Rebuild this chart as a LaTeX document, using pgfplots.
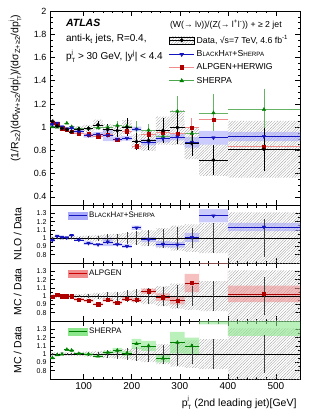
\documentclass[border=0pt]{standalone}
\usepackage{fontspec}
\setmainfont{Liberation Sans}
\usepackage{pgfplots}
\pgfplotsset{compat=1.18}
\usepackage{pgfplotstable}
\usepgfplotslibrary{fillbetween}
\usetikzlibrary{patterns.meta}

\definecolor{mblue}{RGB}{20,20,190}
\definecolor{lblue}{RGB}{170,170,250}
\definecolor{mred}{RGB}{175,0,0}
\definecolor{lred}{RGB}{240,140,140}
\definecolor{mgreen}{RGB}{0,128,0}
\definecolor{lgreen}{RGB}{140,230,140}

\newcommand{\ptj}{p\makebox[0pt][l]{\raisebox{0.95ex}{\fontsize{6}{6}\selectfont j}}\raisebox{-0.55ex}{\fontsize{6}{6}\selectfont T}}
\newcommand{\smc}[1]{{\fontsize{6.2}{7}\selectfont #1}}
\newcommand{\BHS}{B\smc{LACK}H\smc{AT}+S\smc{HERPA}}

% main panel: left edge, centre, half width, data, stat, syst, BlackHat, band, Alpgen, err, Sherpa, err
\pgfplotstableread{
xl  x   ex  d     ds    dsys  b     be    r     re    g     ge
30  35  5   1.050 0.010 0.021 1.024 0.015 1.040 0.010 1.003 0.010
40  45  5   1.010 0.010 0.020 1.034 0.015 1.030 0.010 1.000 0.010
50  55  5   0.990 0.010 0.020 1.002 0.015 0.990 0.010 0.990 0.010
60  65  5   0.980 0.012 0.020 0.985 0.015 0.980 0.010 1.034 0.010
70  75  5   0.960 0.014 0.020 0.994 0.015 0.960 0.010 1.003 0.010
80  90  10  0.983 0.015 0.025 0.963 0.015 0.944 0.010 0.988 0.012
100 110 10  0.990 0.020 0.030 0.930 0.020 0.938 0.012 0.990 0.015
120 130 10  1.020 0.030 0.045 0.940 0.020 0.922 0.012 0.995 0.020
140 150 10  0.980 0.045 0.045 0.930 0.050 0.936 0.015 1.000 0.030
160 170 10  0.970 0.055 0.050 0.898 0.020 0.892 0.015 1.014 0.040
180 190 10  1.000 0.075 0.060 0.904 0.020 0.967 0.020 1.010 0.070
200 210 10  0.875 0.075 0.065 0.984 0.020 0.836 0.020 0.984 0.070
220 235 15  0.885 0.085 0.090 0.869 0.025 0.938 0.030 0.974 0.050
250 265 15  0.970 0.110 0.120 0.900 0.030 0.958 0.040 0.920 0.060
280 295 15  0.997 0.140 0.150 0.917 0.030 0.944 0.040 1.137 0.130
310 325 15  0.860 0.105 0.135 0.869 0.045 0.998 0.080 0.946 0.100
340 370 30  0.716 0.130 0.135 0.909 0.060 1.066 0.030 1.123 0.160
400 475 75  0.810 0.185 0.245 0.920 0.040 0.833 0.030 1.152 0.180
550 nan nan 0.810 0.185 0.245 0.920 0.040 0.833 0.030 1.152 0.180
}\maintab

% ratio panels: relative data stat/syst, model/data ratios with bands
\pgfplotstableread{
xl  x   ex  ds    dsys  b     be    r     re    g     ge
30  35  5   0.010 0.020 0.975 0.015 0.990 0.015 0.955 0.010
40  45  5   0.010 0.020 1.024 0.015 1.020 0.015 0.990 0.010
50  55  5   0.010 0.020 1.012 0.015 1.000 0.015 1.000 0.010
60  65  5   0.012 0.020 1.005 0.015 1.000 0.015 1.055 0.012
70  75  5   0.015 0.021 1.035 0.015 1.000 0.015 1.045 0.012
80  90  10  0.015 0.025 0.980 0.015 0.960 0.015 1.005 0.012
100 110 10  0.020 0.030 0.940 0.020 0.947 0.015 1.000 0.015
120 130 10  0.030 0.040 0.923 0.020 0.904 0.015 0.975 0.015
140 150 10  0.045 0.045 0.955 0.050 0.955 0.020 1.020 0.020
160 170 10  0.055 0.052 0.926 0.020 0.920 0.020 1.045 0.030
180 190 10  0.075 0.060 0.904 0.020 0.967 0.020 1.010 0.030
200 210 10  0.085 0.075 1.125 0.025 0.955 0.025 1.125 0.060
220 235 15  0.095 0.095 0.982 0.030 1.060 0.030 1.100 0.060
250 265 15  0.115 0.120 0.928 0.035 0.988 0.045 0.950 0.050
280 295 15  0.140 0.150 0.920 0.035 0.947 0.045 1.140 0.130
310 325 15  0.120 0.165 1.010 0.055 1.160 0.110 1.100 0.100
340 370 30  0.180 0.180 1.270 0.080 1.490 0.100 1.570 0.210
400 475 75  0.230 0.310 1.135 0.050 1.028 0.100 1.420 0.200
550 nan nan 0.230 0.310 1.135 0.050 1.028 0.100 1.420 0.200
}\ratiotab

\pgfplotsset{
 base/.style={scale only axis, width=250pt, xmin=30, xmax=550,
   tick align=inside, tick pos=both, major tick length=5pt, minor tick length=2.5pt,
   xtick={100,200,300,400,500}, minor x tick num=4,
   /pgf/number format/assume math mode=true,
   axis line style={line width=0.5pt}, every tick/.style={black, line width=0.5pt},
   label style={font=\fontsize{10.5}{12}\selectfont},
   xticklabel style={font=\fontsize{10}{11}\selectfont}},
 rat/.style={base, height=58pt, ymin=0.7, ymax=1.4,
   ytick={0.8,0.9,1,1.1,1.2,1.3}, minor y tick num=1,
   yticklabel style={font=\fontsize{7}{8}\selectfont},
   ylabel style={at={(axis description cs:-0.1,0.5)}, anchor=south},
   legend style={at={(axis description cs:0.06,0.95)}, anchor=north west, draw=none, fill=none,
     font=\fontsize{8}{9}\selectfont}},
 hatch/.style={draw=none, pattern={Lines[angle=45,distance=2pt,line width=0.3pt]}, pattern color=black!40},
 legend image code/.code={\draw[mark repeat=2,mark phase=2,#1] plot coordinates {(0pt,0pt) (12.5pt,0pt) (25pt,0pt)};},
 datalegend/.style={legend image code/.code={\fill[pattern={Lines[angle=45,distance=2pt,line width=0.3pt]}, pattern color=black!40] (0pt,-3.5pt) rectangle (25pt,3.5pt);
  \draw[mark repeat=2,mark phase=2,##1] plot coordinates {(0pt,0pt) (12.5pt,0pt) (25pt,0pt)};}},
 bandlegend/.style 2 args={legend image code/.code={\fill[#1] (0pt,-3.5pt) rectangle (18pt,3.5pt); \draw[#2, line width=1pt] (0pt,0pt)--(18pt,0pt);}},
}

\begin{document}
\begin{tikzpicture}
% ================= MAIN PANEL =================
\begin{axis}[base, name=main, at={(0,0)}, anchor=north west, height=194pt,
  ymin=0.33, ymax=2, ytick={0.4,0.6,0.8,1,1.2,1.4,1.6,1.8,2}, minor y tick num=3,
  yticklabel style={font=\fontsize{9}{10}\selectfont},
  xticklabels={},
  ylabel={(1/R\textsubscript{≥2})(dσ\textsubscript{W+≥2}/d\ptj)/(dσ\textsubscript{Z+≥2}/d\ptj)},
  ylabel style={at={(axis description cs:-0.1,1)}, anchor=south east},
  legend style={at={(axis description cs:0.462,0.895)}, anchor=north west, draw=none, fill=none,
    font=\fontsize{8.7}{10}\selectfont, row sep=1.6pt, cells={anchor=west},
    /tikz/every even column/.append style={column sep=5pt}},
  legend cell align=left]
% data systematic hatch
\addplot[draw=none, name path=mdU, const plot mark left, forget plot] table[x=xl, y expr=\thisrow{d}+\thisrow{dsys}] {\maintab};
\addplot[draw=none, name path=mdL, const plot mark left, forget plot] table[x=xl, y expr=\thisrow{d}-\thisrow{dsys}] {\maintab};
\addplot[hatch, forget plot] fill between[of=mdU and mdL];
% BlackHat band
\addplot[draw=none, name path=mbU, const plot mark left, forget plot] table[x=xl, y expr=\thisrow{b}+\thisrow{be}] {\maintab};
\addplot[draw=none, name path=mbL, const plot mark left, forget plot] table[x=xl, y expr=\thisrow{b}-\thisrow{be}] {\maintab};
\addplot[draw=none, fill=lblue, fill opacity=0.6, forget plot] fill between[of=mbU and mbL];
% Sherpa
\addplot[mgreen, only marks, mark=triangle*, mark size=2pt, forget plot,
  error bars/.cd, x dir=both, x explicit, y dir=both, y explicit, error mark=none,
  error bar style={mgreen!60, line width=0.7pt}] table[x=x, y=g, x error=ex, y error=ge] {\maintab};
% Alpgen
\addplot[mred, only marks, mark=square*, mark size=1.7pt, forget plot,
  error bars/.cd, x dir=both, x explicit, y dir=both, y explicit, error mark=none,
  error bar style={lred, line width=0.7pt}] table[x=x, y=r, x error=ex, y error=re] {\maintab};
% BlackHat
\addplot[mblue, only marks, mark=triangle*, mark size=2pt, mark options={rotate=180}, forget plot,
  error bars/.cd, x dir=both, x explicit, error mark=none,
  error bar style={mblue, line width=0.6pt}] table[x=x, y=b, x error=ex] {\maintab};
% Data
\addplot[black, only marks, mark=*, mark size=1.7pt, forget plot,
  error bars/.cd, x dir=both, x explicit, y dir=both, y explicit, error mark=none,
  error bar style={black, line width=0.6pt}] table[x=x, y=d, x error=ex, y error=ds] {\maintab};
% legend
\addlegendimage{black, line width=0.6pt, mark=*, mark size=1.7pt, datalegend}
\addlegendentry{Data, √s=7 TeV, 4.6 fb\textsuperscript{-1}}
\addlegendimage{mblue, line width=0.6pt, mark=triangle*, mark size=2pt, mark options={rotate=180}}
\addlegendentry{\BHS}
\addlegendimage{lred, line width=1pt, mark=square*, mark size=1.7pt, mark options={mred}}
\addlegendentry{ALPGEN+HERWIG}
\addlegendimage{mgreen!70, line width=0.7pt, mark=triangle*, mark size=2pt, mark options={mgreen}}
\addlegendentry{SHERPA}
% texts
\node[anchor=west, font=\fontsize{10.5}{12}\selectfont\bfseries\itshape] at (axis description cs:0.05,0.938) {ATLAS};
\node[anchor=west, font=\fontsize{10}{12}\selectfont] at (axis description cs:0.05,0.855) {anti-k\textsubscript{t} jets, R=0.4,};
\node[anchor=west, font=\fontsize{10}{12}\selectfont] at (axis description cs:0.05,0.768) {\ptj{} > 30 GeV, |y\textsuperscript{j}| < 4.4};
\node[anchor=west, font=\fontsize{8.7}{10}\selectfont] at (axis description cs:0.466,0.928) {(W(→ lν))/(Z(→ l\textsuperscript{+}l\textsuperscript{-})) + ≥ 2 jet};
\end{axis}

% ================= RATIO 1: NLO =================
\begin{axis}[rat, name=r1, at={(main.south west)}, anchor=north west, xticklabels={},
  ylabel={NLO / Data}]
\addplot[draw=none, name path=adU, const plot mark left, forget plot] table[x=xl, y expr=1+\thisrow{dsys}] {\ratiotab};
\addplot[draw=none, name path=adL, const plot mark left, forget plot] table[x=xl, y expr=1-\thisrow{dsys}] {\ratiotab};
\addplot[hatch, forget plot] fill between[of=adU and adL];
\addplot[draw=none, name path=abU, const plot mark left, forget plot] table[x=xl, y expr=\thisrow{b}+\thisrow{be}] {\ratiotab};
\addplot[draw=none, name path=abL, const plot mark left, forget plot] table[x=xl, y expr=\thisrow{b}-\thisrow{be}] {\ratiotab};
\addplot[draw=none, fill=lblue, fill opacity=0.6, forget plot] fill between[of=abU and abL];
\addplot[black, line width=0.6pt, forget plot] coordinates {(30,1) (550,1)};
\addplot[draw=none, mark=none, forget plot, error bars/.cd, y dir=both, y explicit, error mark=none,
  error bar style={black!75, line width=0.6pt}] table[x=x, y expr=1, y error=ds] {\ratiotab};
\addplot[mblue, only marks, mark=triangle*, mark size=2pt, mark options={rotate=180}, forget plot,
  error bars/.cd, x dir=both, x explicit, error mark=none,
  error bar style={mblue, line width=0.6pt}] table[x=x, y=b, x error=ex] {\ratiotab};
\addlegendimage{bandlegend={lblue}{mblue}}
\addlegendentry{\BHS}
\end{axis}

% ================= RATIO 2: ALPGEN =================
\begin{axis}[rat, name=r2, at={(r1.south west)}, anchor=north west, xticklabels={},
  ylabel={MC / Data}]
\addplot[draw=none, name path=bdU, const plot mark left, forget plot] table[x=xl, y expr=1+\thisrow{dsys}] {\ratiotab};
\addplot[draw=none, name path=bdL, const plot mark left, forget plot] table[x=xl, y expr=1-\thisrow{dsys}] {\ratiotab};
\addplot[hatch, forget plot] fill between[of=bdU and bdL];
\addplot[draw=none, name path=brU, const plot mark left, forget plot] table[x=xl, y expr=\thisrow{r}+\thisrow{re}] {\ratiotab};
\addplot[draw=none, name path=brL, const plot mark left, forget plot] table[x=xl, y expr=\thisrow{r}-\thisrow{re}] {\ratiotab};
\addplot[draw=none, fill=lred, fill opacity=0.55, forget plot] fill between[of=brU and brL];
\addplot[black, line width=0.6pt, forget plot] coordinates {(30,1) (550,1)};
\addplot[draw=none, mark=none, forget plot, error bars/.cd, y dir=both, y explicit, error mark=none,
  error bar style={black!75, line width=0.6pt}] table[x=x, y expr=1, y error=ds] {\ratiotab};
\addplot[mred, only marks, mark=square*, mark size=1.7pt, forget plot,
  error bars/.cd, x dir=both, x explicit, error mark=none,
  error bar style={mred, line width=0.6pt}] table[x=x, y=r, x error=ex] {\ratiotab};
\addlegendimage{bandlegend={lred}{red!80!black}}
\addlegendentry{ALPGEN}
\end{axis}

% ================= RATIO 3: SHERPA =================
\begin{axis}[rat, name=r3, at={(r2.south west)}, anchor=north west,
  ylabel={MC / Data}, xlabel={\ptj{} (2nd leading jet)[GeV]},
  xlabel style={at={(ticklabel cs:1)}, anchor=north east, yshift=0pt}]
\addplot[draw=none, name path=cdU, const plot mark left, forget plot] table[x=xl, y expr=1+\thisrow{dsys}] {\ratiotab};
\addplot[draw=none, name path=cdL, const plot mark left, forget plot] table[x=xl, y expr=1-\thisrow{dsys}] {\ratiotab};
\addplot[hatch, forget plot] fill between[of=cdU and cdL];
\addplot[draw=none, name path=cgU, const plot mark left, forget plot] table[x=xl, y expr=\thisrow{g}+\thisrow{ge}] {\ratiotab};
\addplot[draw=none, name path=cgL, const plot mark left, forget plot] table[x=xl, y expr=\thisrow{g}-\thisrow{ge}] {\ratiotab};
\addplot[draw=none, fill=lgreen, fill opacity=0.6, forget plot] fill between[of=cgU and cgL];
\addplot[black, line width=0.6pt, forget plot] coordinates {(30,1) (550,1)};
\addplot[draw=none, mark=none, forget plot, error bars/.cd, y dir=both, y explicit, error mark=none,
  error bar style={black!75, line width=0.6pt}] table[x=x, y expr=1, y error=ds] {\ratiotab};
\addplot[mgreen, only marks, mark=triangle*, mark size=2pt, forget plot,
  error bars/.cd, x dir=both, x explicit, error mark=none,
  error bar style={mgreen, line width=0.6pt}] table[x=x, y=g, x error=ex] {\ratiotab};
\addlegendimage{bandlegend={lgreen}{mgreen}}
\addlegendentry{SHERPA}
\end{axis}

\pgfresetboundingbox
\path ([shift={(-50pt,11pt)}]main.north west) rectangle ([shift={(16pt,-34pt)}]r3.south east);
\end{tikzpicture}
\end{document}
